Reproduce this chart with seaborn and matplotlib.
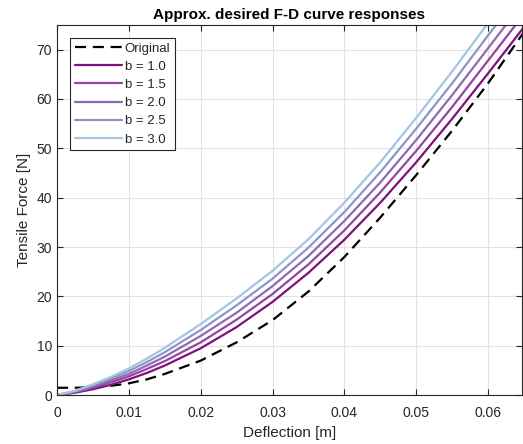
import matplotlib
matplotlib.use("Agg")
import matplotlib.pyplot as plt
import seaborn as sns
import pandas as pd

# ---- data ----
deflection = [0, 0.0025, 0.005, 0.0075, 0.01, 0.0125, 0.015, 0.02, 0.025, 0.03, 0.035, 0.04, 0.045, 0.05, 0.055, 0.06, 0.065]
original = [1.5, 1.5, 1.6, 1.9, 2.4, 3.2, 4.3, 7.0, 10.7, 15.2, 21.0, 28.0, 36.0, 44.6, 53.6, 63.2, 73.6]
b_1_0 = [0, 0.5, 1.2, 2.1, 3.2, 4.5, 6.0, 9.5, 13.8, 18.9, 24.8, 31.5, 39.0, 47.2, 56.0, 65.2, 74.6]
b_1_5 = [0, 0.6, 1.5, 2.6, 3.8, 5.3, 6.9, 10.7, 15.3, 20.5, 26.5, 33.4, 41.1, 49.5, 58.4, 67.8, 77.2]
b_2_0 = [0, 0.7, 1.7, 3.0, 4.3, 6.0, 7.8, 12.0, 16.7, 22.1, 28.2, 35.3, 43.1, 51.7, 60.8, 70.3, 79.8]
b_2_5 = [0, 0.8, 2.0, 3.4, 4.9, 6.7, 8.7, 13.2, 18.2, 23.6, 29.9, 37.1, 45.2, 54.0, 63.2, 72.9, 82.4]
b_3_0 = [0, 0.9, 2.2, 3.7, 5.4, 7.4, 9.6, 14.4, 19.6, 25.2, 31.6, 39.0, 47.2, 56.2, 65.6, 75.4, 85.0]

series_labels = ["b = 1.0", "b = 1.5", "b = 2.0", "b = 2.5", "b = 3.0"]
series_values = [b_1_0, b_1_5, b_2_0, b_2_5, b_3_0]
series_colors = ["#810f7c", "#9444a3", "#8c6bb1", "#8c96c6", "#a3c4e2"]

x_ticks = [0, 0.01, 0.02, 0.03, 0.04, 0.05, 0.06]
x_tick_labels = ["0", "0.01", "0.02", "0.03", "0.04", "0.05", "0.06"]
y_ticks = [0, 10, 20, 30, 40, 50, 60, 70]

sns.set_theme(style="white")
plt.rcParams["font.family"] = ["Liberation Sans", "DejaVu Sans"]

fig = plt.figure(figsize=(5.23, 4.44), dpi=100)
ax = fig.add_axes([0.109, 0.110, 0.889, 0.834])

df_orig = pd.DataFrame({"x": deflection, "F": original})
sns.lineplot(data=df_orig, x="x", y="F", ax=ax, color="black", linewidth=1.6,
             linestyle=(0, (5, 3)), label="Original")
for lab, vals, col in zip(series_labels, series_values, series_colors):
    d = pd.DataFrame({"x": deflection, "F": vals})
    sns.lineplot(data=d, x="x", y="F", ax=ax, color=col, linewidth=1.6, label=lab)

ax.set_xlim(0, 0.0647)
ax.set_ylim(0, 75)
ax.set_xticks(x_ticks)
ax.set_xticklabels(x_tick_labels)
ax.set_yticks(y_ticks)
ax.grid(True, color="#e3e3e3", linewidth=0.8)
ax.set_axisbelow(True)
for s in ax.spines.values():
    s.set_color("#262626")
    s.set_linewidth(0.8)
ax.tick_params(direction="in", length=4, width=0.8, colors="#262626",
               labelcolor="#262626", labelsize=10, top=True, right=True,
               bottom=True, left=True)
ax.tick_params(axis="x", pad=8)
ax.set_xlabel("Deflection [m]", fontsize=11, color="#262626", labelpad=4)
ax.set_ylabel("Tensile Force [N]", fontsize=11, color="#262626", labelpad=4)
ax.set_title("Approx. desired F-D curve responses", fontsize=11, fontweight="bold",
             color="black", pad=4)

leg = ax.legend(loc="upper left", bbox_to_anchor=(0.028, 0.965), fontsize=9.5,
                handlelength=3.6, handletextpad=0.2, borderpad=0.35,
                labelspacing=0.45, fancybox=False, framealpha=1,
                borderaxespad=0)
leg.get_frame().set_edgecolor("#262626")
leg.get_frame().set_linewidth(0.8)

fig.savefig("out.png", dpi=100)
